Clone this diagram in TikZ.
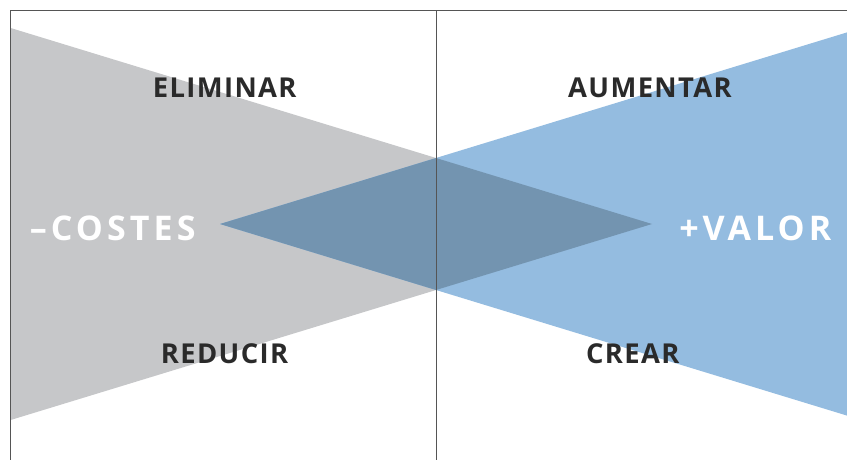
\documentclass[tikz,border=0pt]{standalone}
\usepackage{fontspec}
\setmainfont{Open Sans}
\newfontfamily\lblfont{Open Sans}[LetterSpace=5]
\newfontfamily\bigfont{Open Sans}[LetterSpace=12]
\definecolor{costgray}{HTML}{C6C7C9}
\definecolor{valblue}{HTML}{94BCE0}
\definecolor{overlap}{HTML}{7394B0}
\definecolor{frameline}{HTML}{555555}
\definecolor{lbltext}{HTML}{2A2A2A}
\tikzset{
  act/.style={anchor=base, text=lbltext, font=\lblfont\bfseries\fontsize{27.4}{30}\selectfont, inner sep=0pt},
  side/.style={anchor=base, text=white, font=\bigfont\bfseries\fontsize{34}{38}\selectfont, inner sep=0pt}
}
\begin{document}
\begin{tikzpicture}[x=1pt, y=-1pt]
\useasboundingbox (0,0) rectangle (847,460);
\coordinate (tl) at (10.5,11);
\coordinate (tr) at (847,11);
\coordinate (bl) at (10.5,460);
\coordinate (ct) at (436,11);
\coordinate (cb) at (436,460);
\fill[costgray] (11,28.1) -- (652,224) -- (11,419.9) -- cycle;
\fill[valblue] (847,32.4) -- (220,224) -- (847,415.6) -- cycle;
\fill[overlap] (220,224) -- (436,158) -- (652,224) -- (436,290) -- cycle;
\draw[frameline, line width=1pt] (bl) -- (tl) -- (tr);
\draw[frameline, line width=1pt] (ct) -- (cb);
\node[act] (elim) at (224.7,97.4) {ELIMINAR};
\node[act] (aum) at (650,97.4) {AUMENTAR};
\node[act] (red) at (224.5,363.2) {REDUCIR};
\node[act] (crea) at (632.7,363.2) {CREAR};
\node[side] (cost) at (112.7,240) {–COSTES};
\node[side] (val) at (755.3,240) {+VALOR};
\end{tikzpicture}
\end{document}
